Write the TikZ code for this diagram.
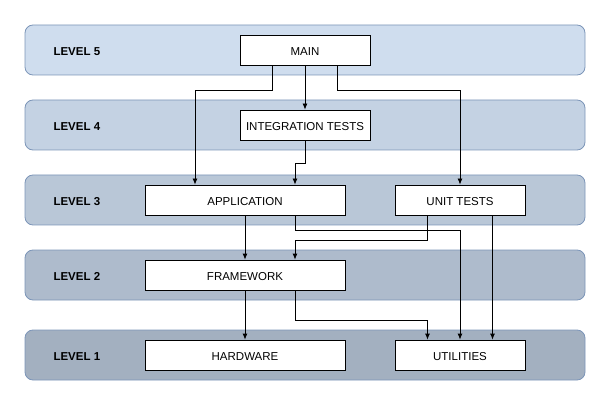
\documentclass[tikz,border=0pt]{standalone}
\usepackage{fontspec}
\setmainfont{Liberation Sans}
\usetikzlibrary{arrows.meta}
\definecolor{bandline}{HTML}{7C95B8}
\definecolor{band5}{RGB}{207,221,238}
\definecolor{band4}{RGB}{196,210,227}
\definecolor{band3}{RGB}{185,199,215}
\definecolor{band2}{RGB}{174,187,204}
\definecolor{band1}{RGB}{163,176,192}

\begin{document}
\begin{tikzpicture}[x=1pt,y=-1pt,>={Latex[length=6pt,width=5pt]},
    band/.style={draw=bandline,line width=0.8pt,rounded corners=8pt,minimum width=560pt,minimum height=50pt},
    lvl/.style={anchor=west,text height=10.5pt,text depth=0pt,font=\fontsize{11.5}{13}\selectfont\bfseries},
    box/.style={draw,fill=white,line width=0.8pt,minimum height=30pt,text height=10.5pt,text depth=0pt,font=\fontsize{11.5}{13}\selectfont},
    wire/.style={->,line width=0.8pt}]
            \useasboundingbox (0,0) rectangle (611,401);

            \foreach \i/\y in {5/50,4/125,3/200,2/275,1/355}{
                \node[band,fill=band\i] (lvl\i) at (305,\y){};
                \node[lvl] (lvl\i txt) at (50,\y){LEVEL \i};
            }

            \node[box,minimum width=130pt] (main) at (305,50){MAIN};
            \node[box,minimum width=130pt] (integ) at (305,125){INTEGRATION TESTS};
            \node[box,minimum width=200pt] (app) at (245,200){APPLICATION};
            \node[box,minimum width=130pt] (unit) at (460,200){UNIT TESTS};
            \node[box,minimum width=200pt] (frame) at (245,275){FRAMEWORK};
            \node[box,minimum width=200pt] (hard) at (245,355){HARDWARE};
            \node[box,minimum width=130pt] (util) at (460,355){UTILITIES};

            \draw[wire] ([xshift=-32.5pt]main.south)--++(0,25)-|([xshift=-50pt]app.north);
            \draw[wire] (main.south)--(integ.north);
            \draw[wire] ([xshift=32.5pt]main.south)--++(0,25)-|(unit.north);
            \draw[wire] (integ.south)--++(0,23)-|([xshift=50pt]app.north);
            \draw[wire] (app.south)--(frame.north);
            \draw[wire] ([xshift=50pt]app.south)--++(0,15)-|(util.north);
            \draw[wire] ([xshift=-32.5pt]unit.south)--++(0,25)-|([xshift=50pt]frame.north);
            \draw[wire] ([xshift=32.5pt]unit.south)--([xshift=32.5pt]util.north);
            \draw[wire] (frame.south)--(hard.north);
            \draw[wire] ([xshift=50pt]frame.south)--++(0,30)-|([xshift=-32.5pt]util.north);
        \end{tikzpicture}
\end{document}
